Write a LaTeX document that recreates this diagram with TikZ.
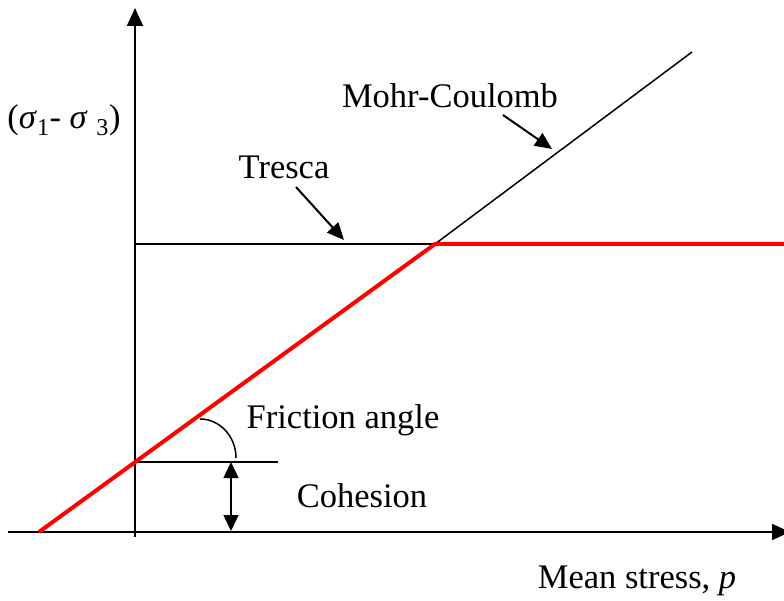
\documentclass[tikz,border=0pt]{standalone}
\usepackage{fontspec}
\setmainfont{Liberation Serif}
\usetikzlibrary{arrows.meta}
\definecolor{envred}{RGB}{255,0,0}

\begin{document}
\begin{tikzpicture}[
    x=1pt, y=-1pt,
    >={Triangle[length=18pt, width=16pt]},
    axis/.style={line width=2pt},
    guide/.style={line width=1.5pt},
    pointer/.style={line width=2pt, ->, >={Triangle[length=17pt, width=15pt]}},
    envelope/.style={draw=envred, line width=4pt},
    lbl/.style={font=\fontsize{34.5}{40}\selectfont, inner sep=0pt},
]
    \useasboundingbox (0,0) rectangle (784,601);
    % points of the plot
    \coordinate (origin) at (135,532);
    \coordinate (ytop) at (135,8);
    \coordinate (ybot) at (135,537);
    \coordinate (xleft) at (8,532);
    \coordinate (xright) at (790,532);
    \coordinate (start) at (39,532);
    \coordinate (cept) at (135,462);
    \coordinate (kink) at (435,244);
    \coordinate (trescaend) at (135,244);
    \coordinate (mcend) at (692,52);
    \coordinate (redend) at (784,244);
    \coordinate (cohend) at (278,462);
    \coordinate (cohtop) at (231,462);
    \coordinate (cohbot) at (231,531);

    % axes
    \draw[axis, ->] (ybot) -- (ytop);
    \draw[axis, ->] (xleft) -- (xright);

    % yield lines
    \draw[guide] (trescaend) -- (kink);
    \draw[guide] (kink) -- (mcend);
    \draw[guide] (cept) -- (cohend);
    \draw[envelope] (start) -- (kink) -- (redend);

    % cohesion and friction angle
    \draw[guide, <->, >={Triangle[length=16pt, width=15pt]}] (cohtop) -- (cohbot);
    \draw[guide] (200,419) arc[start angle=-90, end angle=0, x radius=36, y radius=39];

    % labels
    \node[lbl] (ylab) at (64,120) {(\textit{σ}\textsubscript{1}- \textit{σ} \textsubscript{3})};
    \node[lbl] (tresca) at (284,167) {Tresca};
    \node[lbl] (mohr) at (450,96) {Mohr-Coulomb};
    \node[lbl] (fric) at (343,420) {Friction angle};
    \node[lbl] (coh) at (362,496) {Cohesion};
    \node[lbl] (xlab) at (637,581) {Mean stress, \textit{p}};

    % pointers
    \coordinate (tfrom) at (296,187);
    \coordinate (tto) at (344,240);
    \coordinate (mfrom) at (503,115);
    \coordinate (mto) at (552,149);
    \draw[pointer] (tfrom) -- (tto);
    \draw[pointer] (mfrom) -- (mto);
\end{tikzpicture}
\end{document}
